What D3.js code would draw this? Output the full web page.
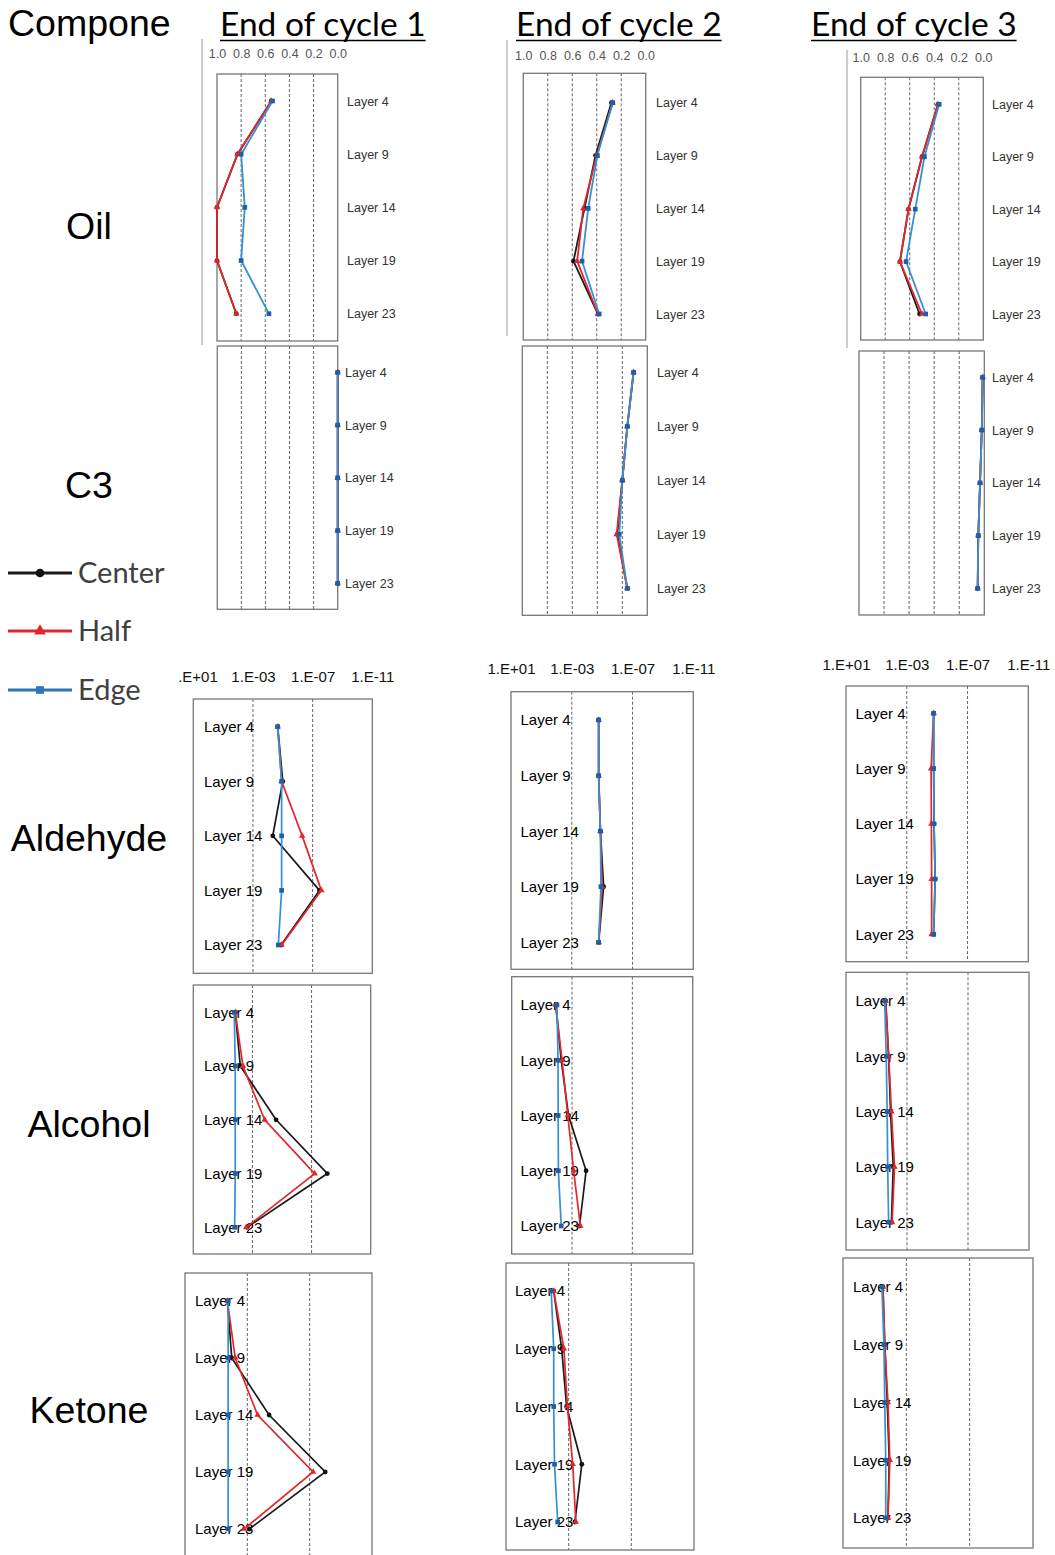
<!DOCTYPE html>
<html>
<head>
<meta charset="utf-8">
<script src="https://cdn.jsdelivr.net/npm/d3@7"></script>
<style>
  html, body { margin: 0; padding: 0; background: #fff; }
  svg { display: block; }
</style>
</head>
<body>
<script>
// ---- data ----------------------------------------------------------------
const layers = ["Layer 4", "Layer 9", "Layer 14", "Layer 19", "Layer 23"];
const cycles = ["End of cycle 1", "End of cycle 2", "End of cycle 3"];
const components = ["Oil", "C3", "Aldehyde", "Alcohol", "Ketone"];
const seriesNames = ["Center", "Half", "Edge"];
const fractionTicks = [1.0, 0.8, 0.6, 0.4, 0.2, 0.0];
const logTicks = [1e1, 1e-3, 1e-7, 1e-11];
const logTickLabels = ["1.E+01", "1.E-03", "1.E-07", "1.E-11"];

// each array: one row per cycle, one value per layer
const oilCenter = [[0.55, 0.83, 1.00, 1.00, 0.84], [0.28, 0.41, 0.50, 0.59, 0.39], [0.37, 0.50, 0.61, 0.68, 0.52]];
const oilHalf   = [[0.55, 0.83, 1.00, 1.00, 0.84], [0.27, 0.40, 0.51, 0.56, 0.39], [0.37, 0.50, 0.61, 0.68, 0.50]];
const oilEdge   = [[0.54, 0.80, 0.77, 0.80, 0.57], [0.27, 0.395, 0.47, 0.52, 0.38], [0.36, 0.48, 0.555, 0.63, 0.47]];

const c3Center = [[0, 0, 0, 0, 0], [0.11, 0.16, 0.20, 0.24, 0.16], [0.013, 0.02, 0.034, 0.048, 0.053]];
const c3Half   = [[0, 0, 0, 0, 0], [0.11, 0.16, 0.20, 0.245, 0.16], [0.013, 0.02, 0.034, 0.048, 0.053]];
const c3Edge   = [[0, 0, 0, 0, 0], [0.11, 0.16, 0.20, 0.224, 0.16], [0.013, 0.02, 0.034, 0.048, 0.053]];

const aldCenter = [[2.2e-5, 1.0e-5, 4.7e-5, 3.5e-8, 1.3e-5], [1.7e-5, 1.7e-5, 1.3e-5, 8.0e-6, 1.7e-5], [1.7e-5, 1.7e-5, 1.6e-5, 1.35e-5, 1.7e-5]];
const aldHalf   = [[2.2e-5, 1.2e-5, 5.0e-7, 2.6e-8, 1.2e-5], [1.7e-5, 1.7e-5, 1.3e-5, 1.0e-5, 1.7e-5], [1.7e-5, 2.5e-5, 2.4e-5, 2.3e-5, 2.3e-5]];
const aldEdge   = [[2.2e-5, 1.2e-5, 1.2e-5, 1.2e-5, 2.0e-5], [1.7e-5, 1.7e-5, 1.3e-5, 1.2e-5, 1.7e-5], [1.7e-5, 1.7e-5, 1.6e-5, 1.35e-5, 1.7e-5]];

const alcCenter = [[1.45e-2, 6.6e-3, 2.5e-5, 8.5e-9, 2.3e-3], [1.2e-2, 5.2e-3, 1.7e-3, 1.17e-4, 3.2e-4], [2.5e-2, 1.6e-2, 1.2e-2, 8.0e-3, 1.05e-2]];
const alcHalf   = [[1.45e-2, 4.4e-3, 1.5e-4, 6.2e-8, 2.6e-3], [1.2e-2, 4.6e-3, 1.9e-3, 7.8e-4, 2.8e-4], [2.5e-2, 1.6e-2, 1.05e-2, 6.6e-3, 9.4e-3]];
const alcEdge   = [[1.7e-2, 1.45e-2, 1.45e-2, 1.45e-2, 1.6e-2], [1.0e-2, 8.5e-3, 8.3e-3, 8.0e-3, 5.2e-3], [2.9e-2, 2.3e-2, 2.0e-2, 1.85e-2, 1.6e-2]];

const ketCenter = [[1.9e-2, 1.0e-2, 4.0e-5, 1.0e-8, 7.5e-4], [9.0e-3, 2.8e-3, 1.35e-3, 1.45e-4, 4.0e-4], [3.0e-2, 2.3e-2, 1.6e-2, 1.2e-2, 1.45e-2]];
const ketHalf   = [[1.9e-2, 6.0e-3, 2.2e-4, 6.0e-8, 1.6e-3], [9.0e-3, 2.0e-3, 1.2e-3, 5.5e-4, 3.5e-4], [3.0e-2, 2.3e-2, 1.45e-2, 1.1e-2, 1.45e-2]];
const ketEdge   = [[1.7e-2, 1.7e-2, 1.7e-2, 1.7e-2, 1.7e-2], [1.3e-2, 9.0e-3, 9.0e-3, 8.0e-3, 5.0e-3], [3.5e-2, 2.6e-2, 2.3e-2, 2.0e-2, 2.0e-2]];

// ---- panel placement --------------------------------------------------------
// x0/x1 box sides, y0/y1 box top/bottom, ly0/ly1 first/last layer row, lx label x, ty tick label row
const panels = [
  { comp: 0, cyc: 0, kind: "frac", x0: 217, x1: 337.7, y0: 74, y1: 341, ly0: 101, ly1: 313.7, lx: 347, ty: 58, data: [oilCenter, oilHalf, oilEdge] },
  { comp: 0, cyc: 1, kind: "frac", x0: 523.3, x1: 645.7, y0: 73.3, y1: 340, ly0: 102.7, ly1: 314, lx: 656, ty: 60, data: [oilCenter, oilHalf, oilEdge] },
  { comp: 0, cyc: 2, kind: "frac", x0: 860.7, x1: 983.3, y0: 77.3, y1: 340, ly0: 104.3, ly1: 314, lx: 992, ty: 62, data: [oilCenter, oilHalf, oilEdge] },
  { comp: 1, cyc: 0, kind: "frac", x0: 217.3, x1: 337.7, y0: 346, y1: 609.3, ly0: 372.3, ly1: 583.3, lx: 345, data: [c3Center, c3Half, c3Edge] },
  { comp: 1, cyc: 1, kind: "frac", x0: 522.3, x1: 647.3, y0: 346, y1: 615.3, ly0: 372.3, ly1: 588.3, lx: 657, data: [c3Center, c3Half, c3Edge] },
  { comp: 1, cyc: 2, kind: "frac", x0: 859, x1: 984.3, y0: 351, y1: 615, ly0: 377.3, ly1: 588.3, lx: 992, data: [c3Center, c3Half, c3Edge] },
  { comp: 2, cyc: 0, kind: "log", x0: 193.3, x1: 372.3, y0: 699, y1: 973.3, ly0: 726.7, ly1: 945, lx: 204, ty: 681, clipLeft: 179, data: [aldCenter, aldHalf, aldEdge] },
  { comp: 2, cyc: 1, kind: "log", x0: 511, x1: 693.3, y0: 691.7, y1: 969.3, ly0: 720, ly1: 942.3, lx: 520.5, ty: 672.5, data: [aldCenter, aldHalf, aldEdge] },
  { comp: 2, cyc: 2, kind: "log", x0: 846, x1: 1028.3, y0: 686, y1: 961.7, ly0: 713.3, ly1: 934.3, lx: 855.5, ty: 668.5, data: [aldCenter, aldHalf, aldEdge] },
  { comp: 3, cyc: 0, kind: "log", x0: 193.3, x1: 370.7, y0: 985, y1: 1254, ly0: 1012.3, ly1: 1227.3, lx: 204, data: [alcCenter, alcHalf, alcEdge] },
  { comp: 3, cyc: 1, kind: "log", x0: 511.7, x1: 692.7, y0: 976.7, y1: 1254, ly0: 1005, ly1: 1226, lx: 520.5, data: [alcCenter, alcHalf, alcEdge] },
  { comp: 3, cyc: 2, kind: "log", x0: 846, x1: 1029, y0: 972.3, y1: 1250, ly0: 1001, ly1: 1222.3, lx: 855.5, data: [alcCenter, alcHalf, alcEdge] },
  { comp: 4, cyc: 0, kind: "log", x0: 185, x1: 372, y0: 1273, y1: 1556, ly0: 1301, ly1: 1529, lx: 195, data: [ketCenter, ketHalf, ketEdge] },
  { comp: 4, cyc: 1, kind: "log", x0: 506, x1: 694, y0: 1263, y1: 1550, ly0: 1291, ly1: 1522, lx: 515, data: [ketCenter, ketHalf, ketEdge] },
  { comp: 4, cyc: 2, kind: "log", x0: 843, x1: 1033, y0: 1258, y1: 1548, ly0: 1287, ly1: 1518, lx: 853, data: [ketCenter, ketHalf, ketEdge] }
];

const rowLabelY = [239, 498, 851, 1137, 1423];
const titleX = [220, 516, 811];

const style = {
  Center: { line: "#1a1a1a", mark: "#111", shape: d3.symbolCircle, size: 18 },
  Half:   { line: "#e3262b", mark: "#e3262b", shape: d3.symbolTriangle, size: 18 },
  Edge:   { line: "#3591d1", mark: "#1d5fa8", shape: d3.symbolSquare, size: 22 }
};

// ---- drawing --------------------------------------------------------------
const W = 1055, H = 1555;
const svg = d3.select("body").append("svg").attr("width", W).attr("height", H);
const defs = svg.append("defs");

// column titles
cycles.forEach((t, i) => {
  const txt = svg.append("text")
    .attr("x", titleX[i]).attr("y", 36)
    .attr("font-family", "Lato, 'Open Sans', sans-serif")
    .attr("font-size", 33.5).attr("fill", "#000").text(t);
  const len = txt.node().getComputedTextLength();
  svg.append("line").attr("x1", titleX[i]).attr("x2", titleX[i] + len)
    .attr("y1", 40.5).attr("y2", 40.5).attr("stroke", "#000").attr("stroke-width", 1.6);
});

// header and row labels
svg.append("text").attr("x", 8).attr("y", 36)
  .attr("font-family", "'Liberation Sans', Arial, sans-serif")
  .attr("font-size", 37.5).attr("fill", "#000").text("Compone");

components.forEach((c, i) => {
  svg.append("text").attr("x", 89).attr("y", rowLabelY[i])
    .attr("text-anchor", "middle")
    .attr("font-family", "'Liberation Sans', Arial, sans-serif")
    .attr("font-size", 37.5).attr("fill", "#000").text(c);
});

// thin left rules beside the oil panels
[[202, 39, 345], [507, 40, 336], [847, 50, 348]].forEach(([x, a, b]) => {
  svg.append("line").attr("x1", x).attr("x2", x).attr("y1", a).attr("y2", b)
    .attr("stroke", "#9a9a9a").attr("stroke-width", 1);
});

// legend
const legendY = [573, 631, 690];
seriesNames.forEach((name, i) => {
  const s = style[name];
  const g = svg.append("g");
  g.append("line").attr("x1", 8).attr("x2", 72).attr("y1", legendY[i]).attr("y2", legendY[i])
    .attr("stroke", name === "Edge" ? "#2e75b6" : s.line).attr("stroke-width", 3);
  g.append("path").attr("d", d3.symbol().type(s.shape).size(60)())
    .attr("transform", `translate(40,${legendY[i]})`)
    .attr("fill", name === "Edge" ? "#2e75b6" : s.mark);
  g.append("text").attr("x", 78).attr("y", legendY[i] + 10)
    .attr("font-family", "Lato, 'Open Sans', sans-serif")
    .attr("font-size", 29).attr("fill", "#404040").text(name);
});

panels.forEach((p, pi) => {
  const g = svg.append("g");
  const x = p.kind === "frac"
    ? d3.scaleLinear().domain([1, 0]).range([p.x0, p.x1])
    : d3.scaleLog().domain([1e1, 1e-11]).range([p.x0, p.x1]);
  const y = d3.scalePoint().domain(layers).range([p.ly0, p.ly1]);

  // dashed reference lines
  const grid = p.kind === "frac" ? [0.8, 0.6, 0.4, 0.2] : [1e-3, 1e-7];
  g.selectAll("line.grid").data(grid).join("line")
    .attr("x1", d => x(d)).attr("x2", d => x(d))
    .attr("y1", p.y0).attr("y2", p.y1)
    .attr("stroke", "#666").attr("stroke-width", 1).attr("stroke-dasharray", "3,2");

  // frame
  g.append("rect").attr("x", p.x0).attr("y", p.y0)
    .attr("width", p.x1 - p.x0).attr("height", p.y1 - p.y0)
    .attr("fill", "none").attr("stroke", "#777").attr("stroke-width", 1.3);

  // tick labels on top
  if (p.ty !== undefined) {
    const outer = g.append("g");
    if (p.clipLeft !== undefined) {
      defs.append("clipPath").attr("id", "clip" + pi)
        .append("rect").attr("x", p.clipLeft).attr("y", 0).attr("width", W).attr("height", H);
      outer.attr("clip-path", `url(#clip${pi})`);
    }
    const tg = outer.append("g").attr("transform", `translate(0,${p.ty})`);
    if (p.kind === "frac") {
      const axis = d3.axisTop(x).tickValues(fractionTicks).tickFormat(d3.format(".1f")).tickSize(0);
      tg.call(axis);
      tg.select(".domain").remove();
      tg.selectAll("text").attr("font-family", "'Liberation Sans', Arial, sans-serif")
        .attr("font-size", 12.5).attr("fill", "#555").attr("dy", "0.35em").attr("y", -4);
    } else {
      const axis = d3.axisTop(x).tickValues(logTicks)
        .tickFormat((d, i) => logTickLabels[i]).tickSize(0);
      tg.call(axis);
      tg.select(".domain").remove();
      tg.selectAll("text").attr("font-family", "'Liberation Sans', Arial, sans-serif")
        .attr("font-size", 15).attr("fill", "#111").attr("dy", "0.35em").attr("y", -4);
    }
  }

  // layer labels
  g.selectAll("text.layer").data(layers).join("text")
    .attr("x", p.lx).attr("y", d => y(d)).attr("dy", "0.36em")
    .attr("font-family", "'Liberation Sans', Arial, sans-serif")
    .attr("font-size", p.kind === "frac" ? 12.5 : 15)
    .attr("fill", p.kind === "frac" ? "#333" : "#000")
    .text(d => d);

  // series
  seriesNames.forEach((name, si) => {
    const vals = p.data[si][p.cyc];
    const pts = layers.map((l, li) => [x(vals[li]), y(l)]);
    const s = style[name];
    g.append("path").attr("d", d3.line()(pts))
      .attr("fill", "none").attr("stroke", s.line)
      .attr("stroke-width", p.kind === "frac" ? 1.8 : 1.7);
    g.selectAll(null).data(pts).join("path")
      .attr("d", d3.symbol().type(s.shape).size(s.size)())
      .attr("transform", d => `translate(${d[0]},${d[1]})`)
      .attr("fill", s.mark);
  });
});
</script>
</body>
</html>
